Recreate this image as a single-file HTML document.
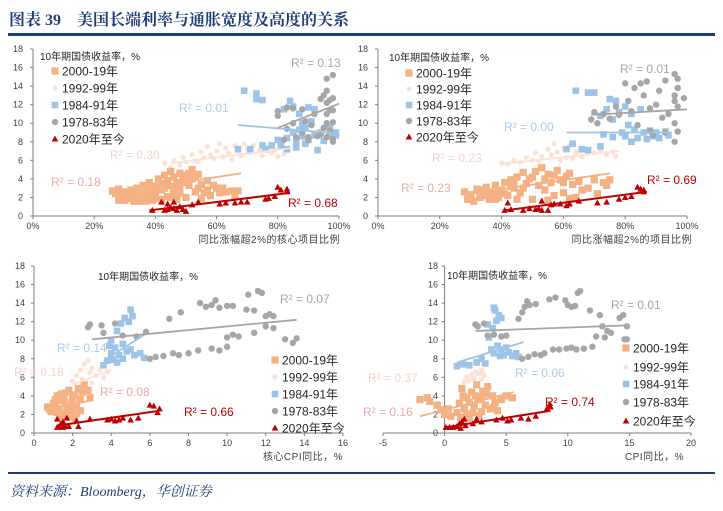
<!DOCTYPE html>
<html><head><meta charset="utf-8">
<style>
html,body{margin:0;padding:0;background:#fff;}
body{width:723px;height:511px;position:relative;overflow:hidden;}
svg{position:absolute;left:0;top:0;}
</style></head>
<body>
<svg id="chart" width="723" height="511" viewBox="0 0 723 511" xmlns="http://www.w3.org/2000/svg">
<text x="9" y="25" font-family="'Liberation Serif','Noto Serif CJK SC',serif" font-weight="bold" font-size="16" fill="#1f3e79">图表 39　美国长端利率与通胀宽度及高度的关系</text>
<rect x="8" y="33" width="707" height="3" fill="#1f3e79"/>
<rect x="8" y="472" width="707" height="2" fill="#1f3e79"/>
<text x="10" y="496" font-family="'Liberation Serif','Noto Serif CJK SC',serif" font-style="italic" font-size="14" fill="#1f3e79">资料来源：Bloomberg，华创证券</text>
</svg>
<script>
// ---------- Panel 1 data ----------
const p1_orange=[[26,2.7],[27,2.4],[28,2.9],[29,2.2],[30,2.6],[31,1.9],[32,2.8],[33,2.2],[34,3.0],[35,1.8],[36,2.5],[36,3.3],[37,2.0],[38,2.9],[38,3.6],[39,1.7],[40,2.4],[40,3.2],[41,4.0],[42,2.8],[42,3.5],[43,4.4],[44,2.1],[44,3.8],[45,4.8],[46,3.0],[46,4.2],[47,3.6],[48,4.6],[48,2.5],[49,3.9],[50,4.4],[50,2.0],[51,3.3],[52,5.0],[52,4.0],[53,2.6],[54,4.5],[55,3.4],[55,1.9],[56,2.5],[57,3.8],[58,2.2],[59,3.3],[60,3.0],[61,2.5],[62,3.0],[63,2.6],[65,2.7],[66,2.2],[67,2.7],[33,1.6],[35,1.6],[37,1.6],[30,1.7],[28,1.7],[42,1.8],[45,2.0],[47,1.8],[31,2.4],[34,2.6],[39,2.6],[43,3.0],[46,2.4],[50,3.6],[53,4.2],[32,2.0],[36,2.1],[40,1.9],[41,2.9],[44,3.3],[48,3.2],[51,4.6],[54,3.0],[57,2.8],[38,2.2]];
const p1_pale=[[43,5.7],[45,5.2],[46,6.0],[48,5.5],[49,6.3],[50,5.8],[52,6.6],[53,6.0],[55,6.9],[56,6.3],[57,7.5],[58,6.6],[60,7.0],[61,7.8],[62,6.4],[63,7.3],[64,6.8],[66,7.6],[67,7.0],[68,6.5],[70,7.2],[71,6.8],[72,7.6],[74,7.0],[75,6.5],[76,7.3],[78,6.8],[79,7.1],[80,6.4],[82,6.7],[83,7.0],[54,5.8],[59,6.2],[65,6.1],[69,7.8]];
const p1_blue=[[67,7.2],[69,13.5],[71,7.2],[73,13.2],[73,12.6],[75,12.5],[75,7.6],[76,7.2],[78,7.6],[80,8.2],[81,7.6],[82,11.5],[83,8.4],[83,7.2],[84,12.4],[85,9.0],[85,11.8],[86,8.0],[87,9.3],[87,11.0],[88,10.0],[88,8.6],[89,9.5],[90,11.7],[90,8.2],[91,10.2],[92,8.7],[92,11.5],[93,7.1],[94,9.0],[95,8.1],[97,8.6],[97,9.5],[99,9.0],[99,8.7],[89,7.8],[86,7.4]];
const p1_gray=[[80,11.3],[80,10.8],[82,8.2],[83,11.7],[83,9.4],[85,11.6],[85,10.0],[86,8.5],[88,11.5],[88,9.0],[89,10.2],[90,8.5],[91,9.8],[92,11.0],[93,8.6],[94,12.6],[95,13.0],[96,14.8],[96,13.5],[96,12.2],[96,11.0],[96,10.0],[96,8.5],[97,12.5],[97,11.4],[98,15.2],[98,12.7],[98,11.4],[98,10.1],[98,8.3],[98,8.0],[94,8.8],[95,9.5],[97,9.2],[90,8.2]];
const p1_red=[[39,0.6],[42,1.5],[43,0.6],[44,1.3],[44,0.7],[45,0.9],[46,1.5],[46,0.8],[47,0.6],[48,1.0],[49,0.7],[50,0.5],[52,1.2],[54,1.5],[61,1.3],[63,1.4],[66,1.4],[68,1.5],[70,1.5],[76,1.8],[77,1.9],[79,2.1],[80,3.1],[81,2.8],[83,2.6],[83,2.9]];
const p1_trends=[[26,2.5,68,4.6],[45,5.7,84,7.3],[67,9.8,100,8.9],[80,9.5,100,12.1],[38,0.6,84,2.5]];
const p1_r2=["0.18","0.30","0.01","0.13","0.68"];
const p1_xticks=["0%","20%","40%","60%","80%","100%"];

// ---------- Panel 2 data ----------
const p2_orange=[[28,2.6],[29,1.8],[30,2.3],[31,1.6],[32,2.9],[33,2.0],[34,2.6],[35,3.1],[36,1.8],[37,2.4],[38,3.3],[39,2.0],[40,2.8],[41,3.6],[42,2.2],[43,3.9],[44,3.0],[45,4.2],[46,2.5],[47,4.7],[48,3.5],[49,4.0],[50,1.8],[51,4.8],[52,3.3],[53,5.2],[54,2.8],[55,4.5],[56,3.6],[57,2.2],[58,4.9],[59,3.9],[60,2.5],[61,4.3],[62,4.6],[63,3.4],[64,2.0],[65,3.7],[66,2.8],[68,3.0],[70,3.9],[71,2.4],[73,3.6],[74,3.3],[75,3.9],[45,1.8],[55,1.7],[62,1.9],[35,2.2],[39,2.6],[43,3.2],[30,1.9],[33,2.8],[36,2.6],[38,1.8],[41,2.4],[44,3.6],[47,3.0],[50,4.2],[54,4.0],[57,4.4],[60,3.6]];
const p2_pale=[[40,5.7],[42,5.6],[44,6.0],[46,5.8],[48,6.3],[50,6.0],[51,6.8],[53,6.4],[55,7.2],[56,6.6],[57,7.8],[58,6.9],[60,7.3],[61,6.3],[62,7.6],[64,6.8],[65,7.0],[66,6.4],[68,7.1],[70,6.8],[72,7.0],[74,6.6],[76,6.9],[77,6.4],[52,5.9],[59,6.0],[63,6.2]];
const p2_blue=[[61,7.2],[63,7.8],[64,13.5],[66,7.2],[68,7.1],[68,13.3],[70,13.3],[72,7.5],[73,8.8],[74,11.5],[75,12.6],[76,8.5],[77,12.4],[78,11.2],[79,9.0],[80,11.8],[80,8.6],[81,9.8],[82,8.0],[82,11.0],[83,9.3],[84,8.4],[85,11.5],[86,9.0],[87,8.3],[88,9.2],[89,8.6],[90,9.0],[91,8.4],[93,9.1],[94,8.7],[72,10.8],[76,10.4]];
const p2_gray=[[69,10.4],[70,11.2],[71,10.0],[73,11.0],[75,10.5],[77,11.8],[78,10.9],[80,14.3],[81,12.4],[82,11.3],[83,13.8],[84,9.8],[85,14.3],[86,13.0],[87,14.5],[88,9.2],[89,8.7],[90,12.0],[91,13.5],[92,10.6],[93,14.6],[93,9.0],[94,11.0],[96,15.3],[96,13.0],[96,12.4],[96,10.0],[96,8.0],[97,14.8],[97,13.8],[97,11.8],[97,9.1],[99,12.7],[88,11.6]];
const p2_red=[[41,0.6],[42,1.4],[43,0.7],[47,0.6],[49,0.8],[51,0.7],[52,0.8],[53,1.6],[53,0.6],[55,0.6],[56,1.2],[57,1.3],[59,1.3],[61,1.1],[62,1.3],[65,1.6],[71,1.4],[74,1.5],[78,1.8],[80,2.0],[82,2.1],[84,3.1],[85,2.9],[86,2.8],[86,2.6]];
const p2_trends=[[28,2.3,75,4.6],[40,5.6,78,7.0],[61,9.0,95,9.0],[69,10.9,100,11.5],[41,0.6,87,2.6]];
const p2_r2=["0.23","0.23","0.00","0.01","0.69"];
const p2_xticks=["0%","20%","40%","60%","80%","100%"];

// ---------- Panel 3 data ----------
const p3_orange=[[0.7,2.8],[0.8,2.5],[1.0,3.2],[1.1,2.9],[1.2,4.0],[1.3,3.5],[1.3,2.6],[1.5,3.8],[1.5,2.2],[1.6,4.3],[1.7,3.0],[1.8,2.4],[1.8,4.6],[1.9,1.8],[2.0,3.4],[2.0,2.6],[2.1,4.1],[2.1,1.6],[2.2,3.0],[2.2,2.1],[2.3,4.8],[2.4,3.6],[2.5,4.4],[2.6,5.2],[2.8,4.6],[2.9,3.8],[1.4,1.8],[0.9,2.3],[1.6,3.4],[1.9,2.9],[1.1,3.6],[1.4,4.2],[2.0,4.0],[1.7,2.0],[2.4,2.4],[1.2,2.2]];
const p3_pale=[[2.0,5.6],[2.2,6.2],[2.4,6.8],[2.6,7.4],[2.8,7.8],[2.9,6.5],[3.0,7.0],[3.2,6.2],[3.4,6.8],[3.6,6.0],[3.8,6.6],[2.5,5.8],[3.0,5.4]];
const p3_blue=[[3.6,7.3],[3.8,7.8],[4.0,8.6],[4.0,10.0],[4.1,7.9],[4.2,9.2],[4.3,11.0],[4.4,8.4],[4.5,11.8],[4.6,8.0],[4.6,9.6],[4.7,12.4],[4.8,8.8],[4.9,12.0],[5.0,9.0],[5.0,13.3],[5.1,12.6],[5.2,8.4],[5.5,8.6],[5.7,8.1],[4.3,7.6],[3.9,9.4]];
const p3_gray=[[2.8,11.4],[2.9,11.7],[3.5,11.6],[3.6,10.8],[4.2,11.8],[4.6,10.5],[5.3,10.4],[5.8,10.9],[6.0,8.0],[6.3,8.2],[6.7,8.3],[7.0,12.3],[7.2,8.6],[7.5,8.4],[7.6,13.0],[8.0,8.6],[8.5,8.9],[8.6,14.0],[8.9,13.6],[9.2,13.8],[9.2,9.1],[9.4,14.3],[9.6,13.5],[9.6,8.9],[10.0,13.7],[10.0,9.3],[10.3,13.7],[10.0,10.3],[10.3,10.6],[10.6,10.4],[11.0,13.3],[11.1,14.9],[11.4,13.2],[11.4,10.8],[11.6,15.3],[11.8,15.1],[12.0,11.5],[12.0,12.6],[12.2,12.8],[12.4,11.3],[12.4,12.6],[13.0,10.1],[13.4,9.7],[13.6,10.2]];
const p3_red=[[1.2,0.6],[1.2,1.5],[1.3,0.7],[1.4,1.0],[1.5,0.6],[1.5,1.2],[1.6,0.8],[1.7,1.6],[1.8,0.7],[2.2,1.3],[2.3,0.7],[2.9,1.5],[3.8,1.4],[4.0,1.5],[4.2,1.3],[4.4,1.4],[4.6,1.6],[5.0,1.4],[5.4,1.6],[6.0,3.0],[6.2,2.9],[6.4,2.2],[6.5,2.6]];
const p3_trends=[[0.6,2.6,3.0,3.5],[2.0,5.2,4.0,6.8],[3.6,7.8,5.8,10.7],[3.0,10.1,13.6,12.2],[1.2,0.8,6.5,2.4]];
const p3_r2=["0.08","0.18","0.14","0.07","0.66"];
const p3_xticks=["0","2","4","6","8","10","12","14","16"];

// ---------- Panel 4 data ----------
const p4_orange=[[-2,3.6],[-1.4,3.8],[-1.2,3.4],[-0.6,3.0],[-0.3,2.5],[0,2.0],[0.3,2.6],[0.5,1.8],[1.0,2.2],[1.2,3.2],[1.4,4.8],[1.6,2.6],[1.8,3.8],[2.0,1.6],[2.2,4.4],[2.4,2.9],[2.6,5.2],[2.7,3.6],[3.0,2.3],[3.1,4.5],[3.3,3.0],[3.5,5.0],[3.7,2.6],[3.9,4.0],[4.1,3.3],[4.3,2.4],[4.6,3.6],[5.0,4.0],[5.5,3.8],[1.3,1.7],[2.8,1.9],[1.5,4.0],[2.0,3.3],[2.3,2.2],[3.0,3.8],[3.4,4.2],[1.8,2.0],[2.5,4.0],[4.0,2.8]];
const p4_pale=[[1.6,5.5],[1.8,6.0],[2.0,5.6],[2.2,6.3],[2.5,6.6],[2.6,7.8],[2.8,6.4],[3.0,6.8],[3.2,6.2],[2.4,5.8],[3.0,5.8]];
const p4_blue=[[1.0,7.2],[1.5,7.4],[2.0,7.3],[2.6,7.6],[3.0,8.0],[3.3,7.5],[3.5,11.7],[3.6,10.3],[3.8,9.0],[3.9,11.3],[4.0,8.6],[4.1,13.2],[4.2,12.1],[4.3,9.4],[4.4,12.7],[4.5,8.3],[4.6,9.0],[4.8,8.4],[5.0,9.2],[5.2,8.7],[5.5,8.3],[5.8,8.6],[6.0,8.2],[4.0,13.5],[4.6,12.4]];
const p4_gray=[[2.5,11.7],[2.7,11.5],[3.2,11.8],[3.5,10.5],[4.0,10.6],[4.6,10.4],[5.0,10.5],[6.0,12.3],[6.3,13.0],[6.5,13.6],[6.7,14.2],[6.9,13.8],[7.4,13.9],[6.3,8.0],[6.8,8.2],[7.3,8.5],[7.8,8.4],[8.1,8.6],[8.5,14.4],[8.8,9.0],[9.0,14.6],[9.3,9.0],[9.8,14.3],[9.9,9.1],[10.0,13.8],[10.3,13.6],[10.3,9.2],[10.6,13.7],[10.7,9.0],[10.8,15.1],[11.0,15.3],[11.3,9.1],[11.8,13.2],[12.0,9.3],[12.3,10.4],[12.6,12.7],[12.8,11.5],[13.0,10.3],[13.2,11.0],[13.5,10.8],[14.2,12.4],[14.5,12.7],[14.6,10.1],[14.8,11.5],[14.8,10.1]];
const p4_red=[[0.1,0.6],[0.4,0.6],[0.7,0.6],[1.0,0.7],[1.2,1.0],[1.3,0.5],[1.4,1.2],[1.6,1.5],[1.7,0.8],[2.3,1.0],[2.6,1.5],[3.0,1.2],[4.2,1.4],[4.7,1.6],[5.1,1.3],[5.4,1.4],[6.2,1.6],[6.8,1.5],[7.4,1.8],[8.3,2.6],[8.5,3.0],[8.6,2.8]];
const p4_trends=[[-2,1.8,5.6,4.4],[1.6,5.6,3.3,6.6],[1.0,7.6,6.4,9.8],[2.5,11.0,14.8,11.6],[0,0.6,8.6,2.4]];
const p4_r2=["0.16","0.37","0.06","0.01","0.74"];
const p4_xticks=["-5","0","5","10","15","20"];

const yticks=["0","2","4","6","8","10","12","14","16","18"];
const seriesNames=["2000-19年","1992-99年","1984-91年","1978-83年","2020年至今"];
const markColors=["#f4b183","#fbe2d5","#9dc3e6","#a6a6a6","#c00000"];
const lineColors=["#f4b183","#fbe2d5","#9dc3e6","#a6a6a6","#c00000"];
const labelColors=["#e8a9a9","#f4d3cc","#a9cdea","#a6a6a6","#c00000"];

const NS="http://www.w3.org/2000/svg";
const svg=document.getElementById('chart');
const SANS="'Liberation Sans','Noto Sans CJK SC',sans-serif";
function mk(tag,attrs,parent){const e=document.createElementNS(NS,tag);for(const k in attrs)e.setAttribute(k,attrs[k]);(parent||svg).appendChild(e);return e;}

function panel(cfg){
  const g=mk('g',{});
  
  
  const sx=v=>cfg.x0+(v-cfg.xmin)/(cfg.xmax-cfg.xmin)*(cfg.x1-cfg.x0);
  const sy=v=>cfg.y0-(v/18)*(cfg.y0-cfg.y1);
  const ax=sx(cfg.yAxisAt);
  const ya=mk('line',{x1:ax,y1:cfg.y1,x2:ax,y2:cfg.y0,stroke:'#7f7f7f','stroke-width':1},g);
  
  
  const xa=mk('line',{x1:cfg.x0,y1:cfg.y0,x2:cfg.x1,y2:cfg.y0,stroke:'#7f7f7f','stroke-width':1},g);
  
  
  yticks.forEach(t=>{const y=sy(+t);
    mk('line',{x1:ax-3,y1:y,x2:ax,y2:y,stroke:'#7f7f7f'},g);
    const tx=mk('text',{x:cfg.ylabX,y:y+3,'text-anchor':'end','font-size':9,'font-family':SANS,fill:'#404040'},g);
    tx.textContent=t;
    
    
  });
  cfg.xticks.forEach(t=>{const v=parseFloat(t);const x=sx(v);
    mk('line',{x1:x,y1:cfg.y0,x2:x,y2:cfg.y0+3,stroke:'#7f7f7f'},g);
    const tx=mk('text',{x:x,y:cfg.y0+13,'text-anchor':'middle','font-size':9,'font-family':SANS,fill:'#404040'},g);
    tx.textContent=t;
    
    
  });
  const xt=mk('text',{x:cfg.xtitleX,y:cfg.y0+27,'text-anchor':'end','font-size':10,'font-family':SANS,fill:'#404040','letter-spacing':'0.5'},g);
  xt.textContent=cfg.xtitle;
  
  
  const yt=mk('text',{x:cfg.ytitle[0],y:cfg.ytitle[1],'font-size':10,'font-family':SANS,fill:'#262626'},g);
  yt.textContent='10年期国债收益率，%';
  
  
  function marker(k,x,y,parent){
    let e;
    if(k===0) e=mk('rect',{x:x-3.6,y:y-3.6,width:7.2,height:7.2,fill:markColors[0]},parent);
    else if(k===1) e=mk('circle',{cx:x,cy:y,r:2.6,fill:markColors[1]},parent);
    else if(k===2) e=mk('rect',{x:x-3.3,y:y-3.3,width:6.6,height:6.6,fill:markColors[2]},parent);
    else if(k===3) e=mk('circle',{cx:x,cy:y,r:3.2,fill:markColors[3]},parent);
    else e=mk('path',{d:`M${x},${y-3.5}L${x+3.3},${y+2.5}L${x-3.3},${y+2.5}Z`,fill:markColors[4]},parent);
    return e;
  }
  const order=[1,0,2,3,4];
  order.forEach(k=>{
    const sg=mk('g',{},g);
    
    
    cfg.series[k].forEach(p=>{
      const m=marker(k,sx(p[0]),sy(p[1]),sg);
      
      
    });
  });
  order.forEach(k=>{
    const t=cfg.trends[k];
    const l=mk('line',{x1:sx(t[0]),y1:sy(t[1]),x2:sx(t[2]),y2:sy(t[3]),stroke:lineColors[k],'stroke-width':k===4?2:1.8},g);
    
    
    const lb=mk('text',{x:cfg.r2pos[k][0],y:cfg.r2pos[k][1]+4,'font-size':12,'font-family':SANS,fill:labelColors[k]},g);
    lb.textContent='R² = '+cfg.r2[k];
    
    
  });
  seriesNames.forEach((n,k)=>{
    const lg=mk('g',{},g);
    
    
    const [lx,ly]=cfg.legend[k];
    marker(k,lx,ly,lg);
    const t=mk('text',{x:lx+7,y:ly+4.5,'font-size':12,'font-family':SANS,fill:'#262626'},lg);
    t.textContent=n;
  });
}

panel({name:'panel-core-breadth',x0:33,x1:339,xmin:0,xmax:100,yAxisAt:0,y0:216,y1:49,ylabX:23,xticks:p1_xticks,
  xtitle:'同比涨幅超2%的核心项目比例',xtitleX:340,ytitle:[40,60],
  series:[p1_orange,p1_pale,p1_blue,p1_gray,p1_red],trends:p1_trends,r2:p1_r2,
  r2pos:[[51,182],[110,155],[179,108],[291,63],[288,203]],
  legend:[[55,71],[55,88],[55,105],[55,122],[55,139]]});
panel({name:'panel-all-breadth',x0:378,x1:687,xmin:0,xmax:100,yAxisAt:0,y0:216,y1:49,ylabX:368,xticks:p2_xticks,
  xtitle:'同比涨幅超2%的项目比例',xtitleX:692,ytitle:[389,61],
  series:[p2_orange,p2_pale,p2_blue,p2_gray,p2_red],trends:p2_trends,r2:p2_r2,
  r2pos:[[401,188],[432,158],[504,127],[620,69],[647,180]],
  legend:[[409,73],[409,89],[409,105],[409,121],[409,137]]});
panel({name:'panel-core-cpi',x0:34,x1:343,xmin:0,xmax:16,yAxisAt:0,y0:433,y1:266,ylabX:25,xticks:p3_xticks,
  xtitle:'核心CPI同比，%',xtitleX:343,ytitle:[98,280],
  series:[p3_orange,p3_pale,p3_blue,p3_gray,p3_red],trends:p3_trends,r2:p3_r2,
  r2pos:[[100,392],[14,372],[57,348],[280,299],[184,412]],
  legend:[[275,360],[275,377],[275,394],[275,411],[275,428]]});
panel({name:'panel-cpi',x0:383,x1:691,xmin:-5,xmax:20,yAxisAt:0,y0:433,y1:266,ylabX:438,xticks:p4_xticks,
  xtitle:'CPI同比，%',xtitleX:684,ytitle:[447,279],
  series:[p4_orange,p4_pale,p4_blue,p4_gray,p4_red],trends:p4_trends,r2:p4_r2,
  r2pos:[[363,412],[368,378],[515,373],[611,305],[545,402]],
  legend:[[626,348],[626,367],[626,384],[626,402],[626,421]]});
</script>
</body></html>
